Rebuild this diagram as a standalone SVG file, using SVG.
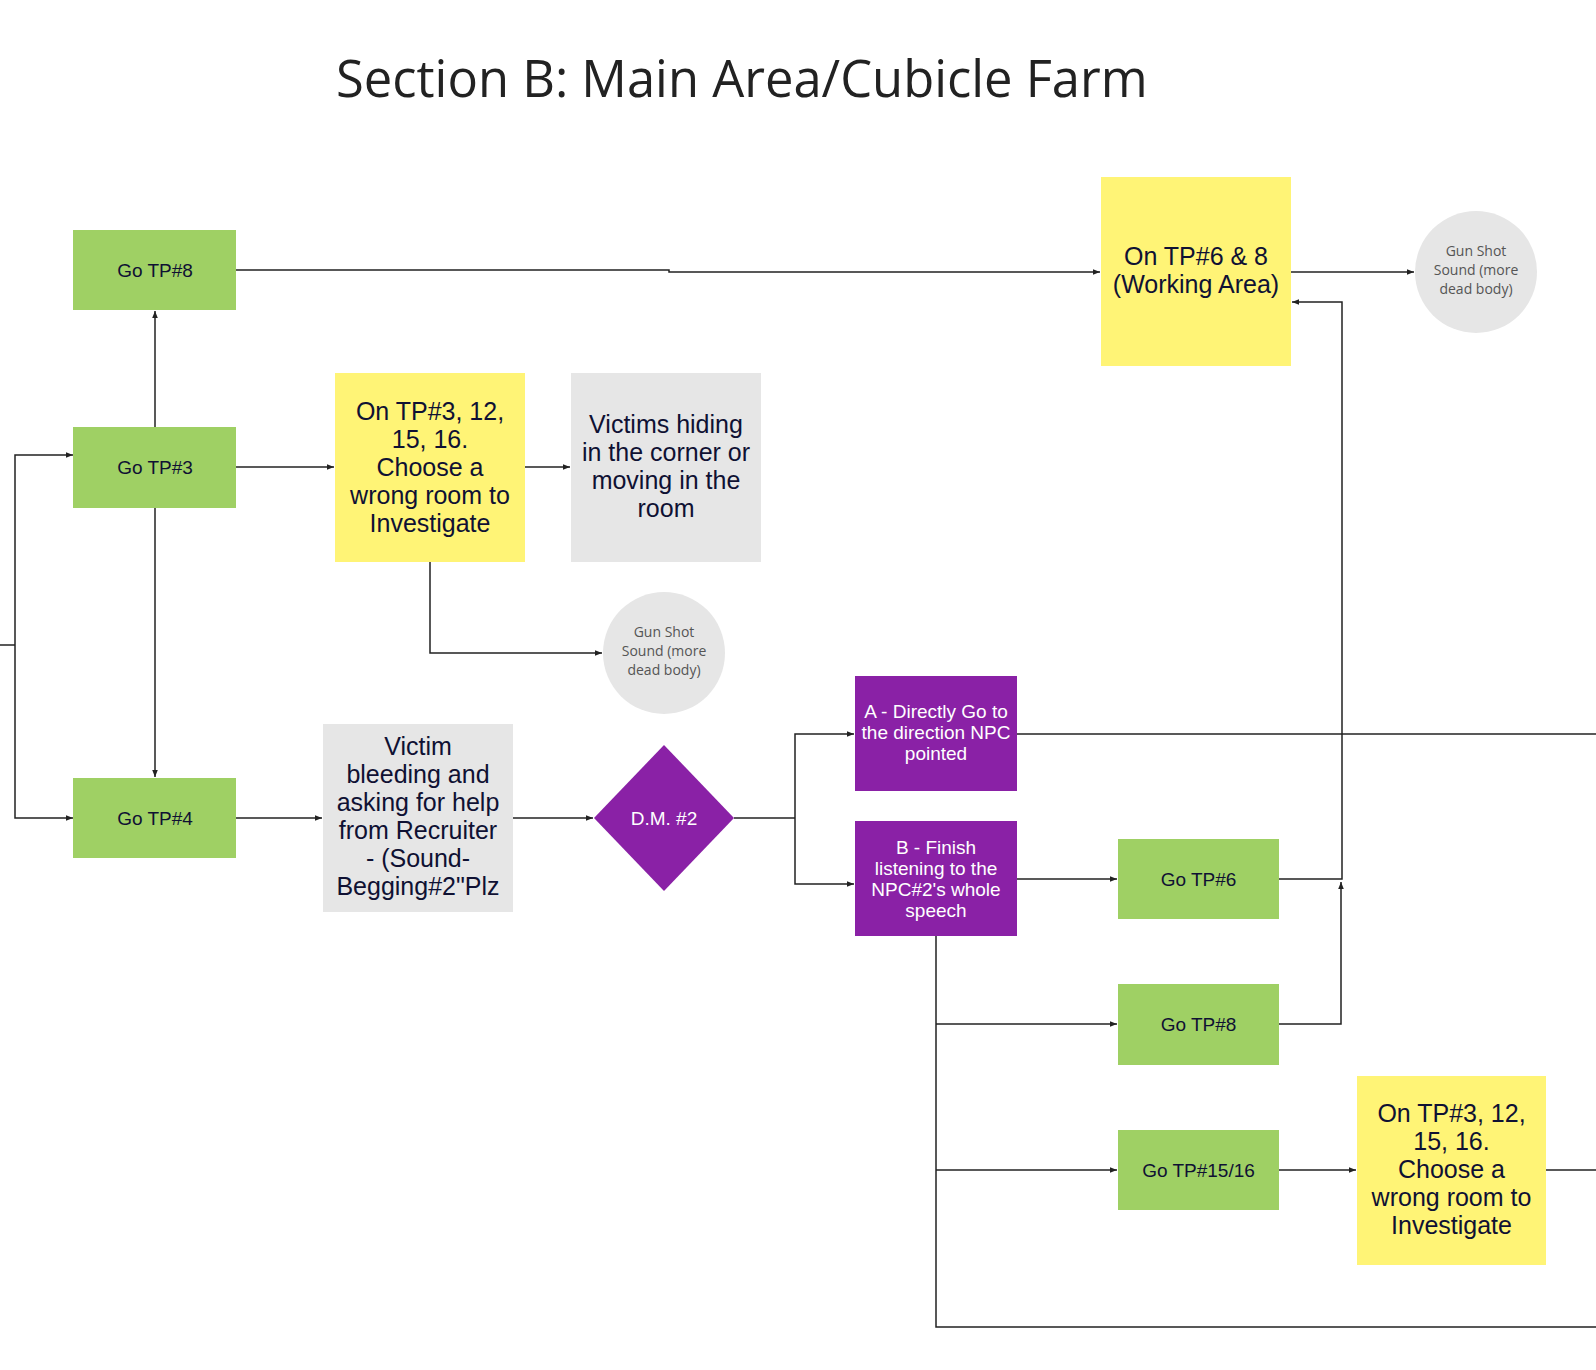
<svg xmlns="http://www.w3.org/2000/svg" width="1596" height="1370" viewBox="0 0 1596 1370">
<style>
.g{fill:#9fd064}
.y{fill:#fff476}
.gr{fill:#e6e6e6}
.p{fill:#8a21a6}
.c{fill:#e6e6e6}
.tg{font-family:"Liberation Sans",Arial,sans-serif;font-size:19px;fill:#0f1133;text-anchor:middle}
.tb{font-family:"Liberation Sans",Arial,sans-serif;font-size:25px;fill:#0f1133;text-anchor:middle}
.tw{font-family:"Liberation Sans",Arial,sans-serif;font-size:19px;fill:#ffffff;text-anchor:middle}
.tc{font-family:"Open Sans",sans-serif;font-size:14px;fill:#555555;text-anchor:middle}
.title{font-family:"Open Sans",sans-serif;font-size:50.7px;fill:#222222}
.ln{fill:none;stroke:#222222;stroke-width:1.5}
</style>
<defs>
<marker id="ah" viewBox="0 0 10 10" refX="10" refY="5" markerWidth="7" markerHeight="7" markerUnits="userSpaceOnUse" orient="auto">
<path d="M0,1 L10,5 L0,9 z" fill="#222222"/>
</marker>
</defs>
<rect width="1596" height="1370" fill="#ffffff"/>
<text class="title" x="336" y="97">Section B: Main Area/Cubicle Farm</text>

<g id="connectors">
<path class="ln" d="M0,645 L15,645"/>
<path class="ln" d="M15,645 L15,455 L73,455" marker-end="url(#ah)"/>
<path class="ln" d="M15,645 L15,818 L73,818" marker-end="url(#ah)"/>
<path class="ln" d="M155,427 L155,311" marker-end="url(#ah)"/>
<path class="ln" d="M155,508 L155,777" marker-end="url(#ah)"/>
<path class="ln" d="M236,467 L334,467" marker-end="url(#ah)"/>
<path class="ln" d="M525,467 L570,467" marker-end="url(#ah)"/>
<path class="ln" d="M430,562 L430,653 L602,653" marker-end="url(#ah)"/>
<path class="ln" d="M236,270 L669,270 L669,272 L1100,272" marker-end="url(#ah)"/>
<path class="ln" d="M1291,272 L1414,272" marker-end="url(#ah)"/>
<path class="ln" d="M236,818 L322,818" marker-end="url(#ah)"/>
<path class="ln" d="M512,818 L593,818" marker-end="url(#ah)"/>
<path class="ln" d="M734,818 L795,818"/>
<path class="ln" d="M795,818 L795,734 L854,734" marker-end="url(#ah)"/>
<path class="ln" d="M795,818 L795,884 L854,884" marker-end="url(#ah)"/>
<path class="ln" d="M1017,734 L1596,734"/>
<path class="ln" d="M1017,879 L1117,879" marker-end="url(#ah)"/>
<path class="ln" d="M1279,879 L1342,879 L1342,302 L1292,302" marker-end="url(#ah)"/>
<path class="ln" d="M1279,1024 L1341,1024 L1341,882" marker-end="url(#ah)"/>
<path class="ln" d="M936,936 L936,1327 L1596,1327"/>
<path class="ln" d="M936,1024 L1117,1024" marker-end="url(#ah)"/>
<path class="ln" d="M936,1170 L1117,1170" marker-end="url(#ah)"/>
<path class="ln" d="M1279,1170 L1356,1170" marker-end="url(#ah)"/>
<path class="ln" d="M1546,1170 L1596,1170"/>
</g>

<g id="go-tp8-top">
<rect class="g" x="73" y="230" width="163" height="80"/>
<text class="tg" x="155" y="277">Go TP#8</text>
</g>
<g id="go-tp3">
<rect class="g" x="73" y="427" width="163" height="81"/>
<text class="tg" x="155" y="474">Go TP#3</text>
</g>
<g id="go-tp4">
<rect class="g" x="73" y="778" width="163" height="80"/>
<text class="tg" x="155" y="825">Go TP#4</text>
</g>
<g id="wrong-room-1">
<rect class="y" x="335" y="373" width="190" height="189"/>
<text class="tb" x="430"><tspan x="430" y="420">On TP#3, 12,</tspan><tspan x="430" y="448">15, 16.</tspan><tspan x="430" y="476">Choose a</tspan><tspan x="430" y="504">wrong room to</tspan><tspan x="430" y="532">Investigate</tspan></text>
</g>
<g id="victims-hiding">
<rect class="gr" x="571" y="373" width="190" height="189"/>
<text class="tb" x="666"><tspan x="666" y="433">Victims hiding</tspan><tspan x="666" y="461">in the corner or</tspan><tspan x="666" y="489">moving in the</tspan><tspan x="666" y="517">room</tspan></text>
</g>
<g id="gunshot-1">
<circle class="c" cx="664" cy="653" r="61"/>
<text class="tc" x="664"><tspan x="664" y="637">Gun Shot</tspan><tspan x="664" y="656">Sound (more</tspan><tspan x="664" y="675">dead body)</tspan></text>
</g>
<g id="working-area">
<rect class="y" x="1101" y="177" width="190" height="189"/>
<text class="tb" x="1196"><tspan x="1196" y="265">On TP#6 &amp; 8</tspan><tspan x="1196" y="293">(Working Area)</tspan></text>
</g>
<g id="gunshot-2">
<circle class="c" cx="1476" cy="272" r="61"/>
<text class="tc" x="1476"><tspan x="1476" y="256">Gun Shot</tspan><tspan x="1476" y="275">Sound (more</tspan><tspan x="1476" y="294">dead body)</tspan></text>
</g>
<g id="victim-bleeding">
<rect class="gr" x="323" y="724" width="190" height="188"/>
<text class="tb" x="418"><tspan x="418" y="755">Victim</tspan><tspan x="418" y="783">bleeding and</tspan><tspan x="418" y="811">asking for help</tspan><tspan x="418" y="839">from Recruiter</tspan><tspan x="418" y="867">- (Sound-</tspan><tspan x="418" y="895">Begging#2"Plz</tspan></text>
</g>
<g id="dm2">
<polygon class="p" points="664,745 734,818 664,891 594,818"/>
<text class="tw" x="664" y="825">D.M. #2</text>
</g>
<g id="option-a">
<rect class="p" x="855" y="676" width="162" height="115"/>
<text class="tw" x="936"><tspan x="936" y="718">A - Directly Go to</tspan><tspan x="936" y="739">the direction NPC</tspan><tspan x="936" y="760">pointed</tspan></text>
</g>
<g id="option-b">
<rect class="p" x="855" y="821" width="162" height="115"/>
<text class="tw" x="936"><tspan x="936" y="854">B - Finish</tspan><tspan x="936" y="875">listening to the</tspan><tspan x="936" y="896">NPC#2's whole</tspan><tspan x="936" y="917">speech</tspan></text>
</g>
<g id="go-tp6">
<rect class="g" x="1118" y="839" width="161" height="80"/>
<text class="tg" x="1198.5" y="886">Go TP#6</text>
</g>
<g id="go-tp8-bottom">
<rect class="g" x="1118" y="984" width="161" height="81"/>
<text class="tg" x="1198.5" y="1031">Go TP#8</text>
</g>
<g id="go-tp15-16">
<rect class="g" x="1118" y="1130" width="161" height="80"/>
<text class="tg" x="1198.5" y="1177">Go TP#15/16</text>
</g>
<g id="wrong-room-2">
<rect class="y" x="1357" y="1076" width="189" height="189"/>
<text class="tb" x="1451.5"><tspan x="1451.5" y="1122">On TP#3, 12,</tspan><tspan x="1451.5" y="1150">15, 16.</tspan><tspan x="1451.5" y="1178">Choose a</tspan><tspan x="1451.5" y="1206">wrong room to</tspan><tspan x="1451.5" y="1234">Investigate</tspan></text>
</g>
</svg>
